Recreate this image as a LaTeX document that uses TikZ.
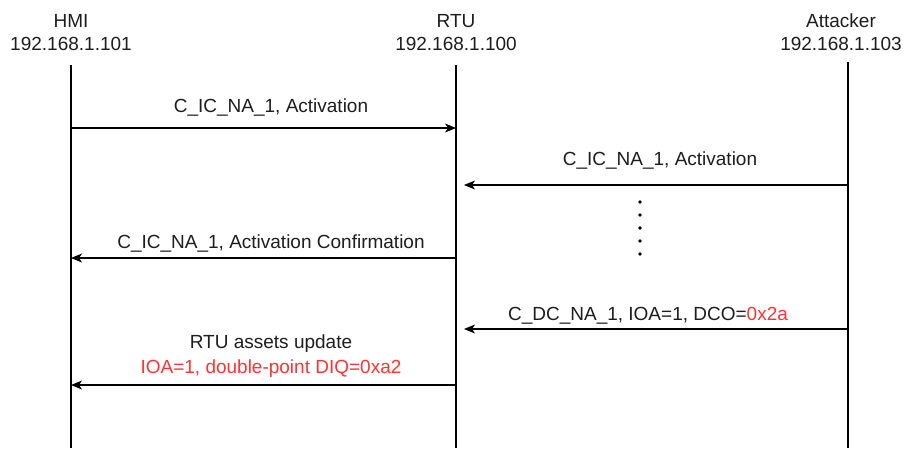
\documentclass[tikz,border=0pt]{standalone}
\usepackage{fontspec}
\setmainfont{Liberation Sans}
\usetikzlibrary{arrows.meta}
\definecolor{hilite}{RGB}{255,51,51}
\definecolor{txt}{RGB}{30,30,30}
\tikzset{
  lifeline/.style={line width=1.3pt, draw=black},
  msg/.style={line width=1.3pt, draw=black, -{Stealth[length=11pt,width=9pt,inset=3pt]}},
  lbl/.style={anchor=base, inner sep=0pt, font=\fontsize{19}{23}\selectfont, text=txt},
  redlbl/.style={lbl, text=hilite},
  dotmark/.style={fill=black, draw=none}
}
\begin{document}
\begin{tikzpicture}[x=1pt,y=-1pt]
\useasboundingbox[fill=white] (0,0) rectangle (904,448);
% headers
\node[lbl] (hmiName) at (71,27) {HMI};
\node[lbl] (hmiIP) at (71,50) {192.168.1.101};
\node[lbl] (rtuName) at (456,27) {RTU};
\node[lbl] (rtuIP) at (456,50) {192.168.1.100};
\node[lbl] (attName) at (841,27) {Attacker};
\node[lbl] (attIP) at (841,50) {192.168.1.103};
% lifelines
\coordinate (hmiTop) at (71,65);
\coordinate (hmiBot) at (71,448);
\coordinate (rtuTop) at (456,65);
\coordinate (rtuBot) at (456,448);
\coordinate (attTop) at (848,62);
\coordinate (attBot) at (848,448);
\draw[lifeline] (hmiTop) -- (hmiBot);
\draw[lifeline] (rtuTop) -- (rtuBot);
\draw[lifeline] (attTop) -- (attBot);
% message 1
\coordinate (m1s) at (71,128);
\coordinate (m1e) at (456,128);
\draw[msg] (m1s) -- (m1e);
\node[lbl] (l1) at (271,112) {C\_IC\_NA\_1, Activation};
% message 2
\coordinate (m2s) at (848,185);
\coordinate (m2e) at (464,185);
\draw[msg] (m2s) -- (m2e);
\node[lbl] (l2) at (660,165) {C\_IC\_NA\_1, Activation};
% dots
\foreach \yy [count=\i] in {202,215,228,241,254}
  \fill[dotmark] (640,\yy) circle (1.8);
% message 3
\coordinate (m3s) at (456,258);
\coordinate (m3e) at (71,258);
\draw[msg] (m3s) -- (m3e);
\node[lbl] (l3) at (271,248) {C\_IC\_NA\_1, Activation Confirmation};
% message 4
\coordinate (m4s) at (848,329);
\coordinate (m4e) at (464,329);
\draw[msg] (m4s) -- (m4e);
\node[lbl] (l4) at (648,320) {C\_DC\_NA\_1, IOA=1, DCO=\textcolor{hilite}{0x2a}};
% message 5
\coordinate (m5s) at (456,385);
\coordinate (m5e) at (71,385);
\draw[msg] (m5s) -- (m5e);
\node[lbl] (l5a) at (271,348) {RTU assets update};
\node[redlbl] (l5b) at (271,373) {IOA=1, double-point DIQ=0xa2};
\end{tikzpicture}
\end{document}
